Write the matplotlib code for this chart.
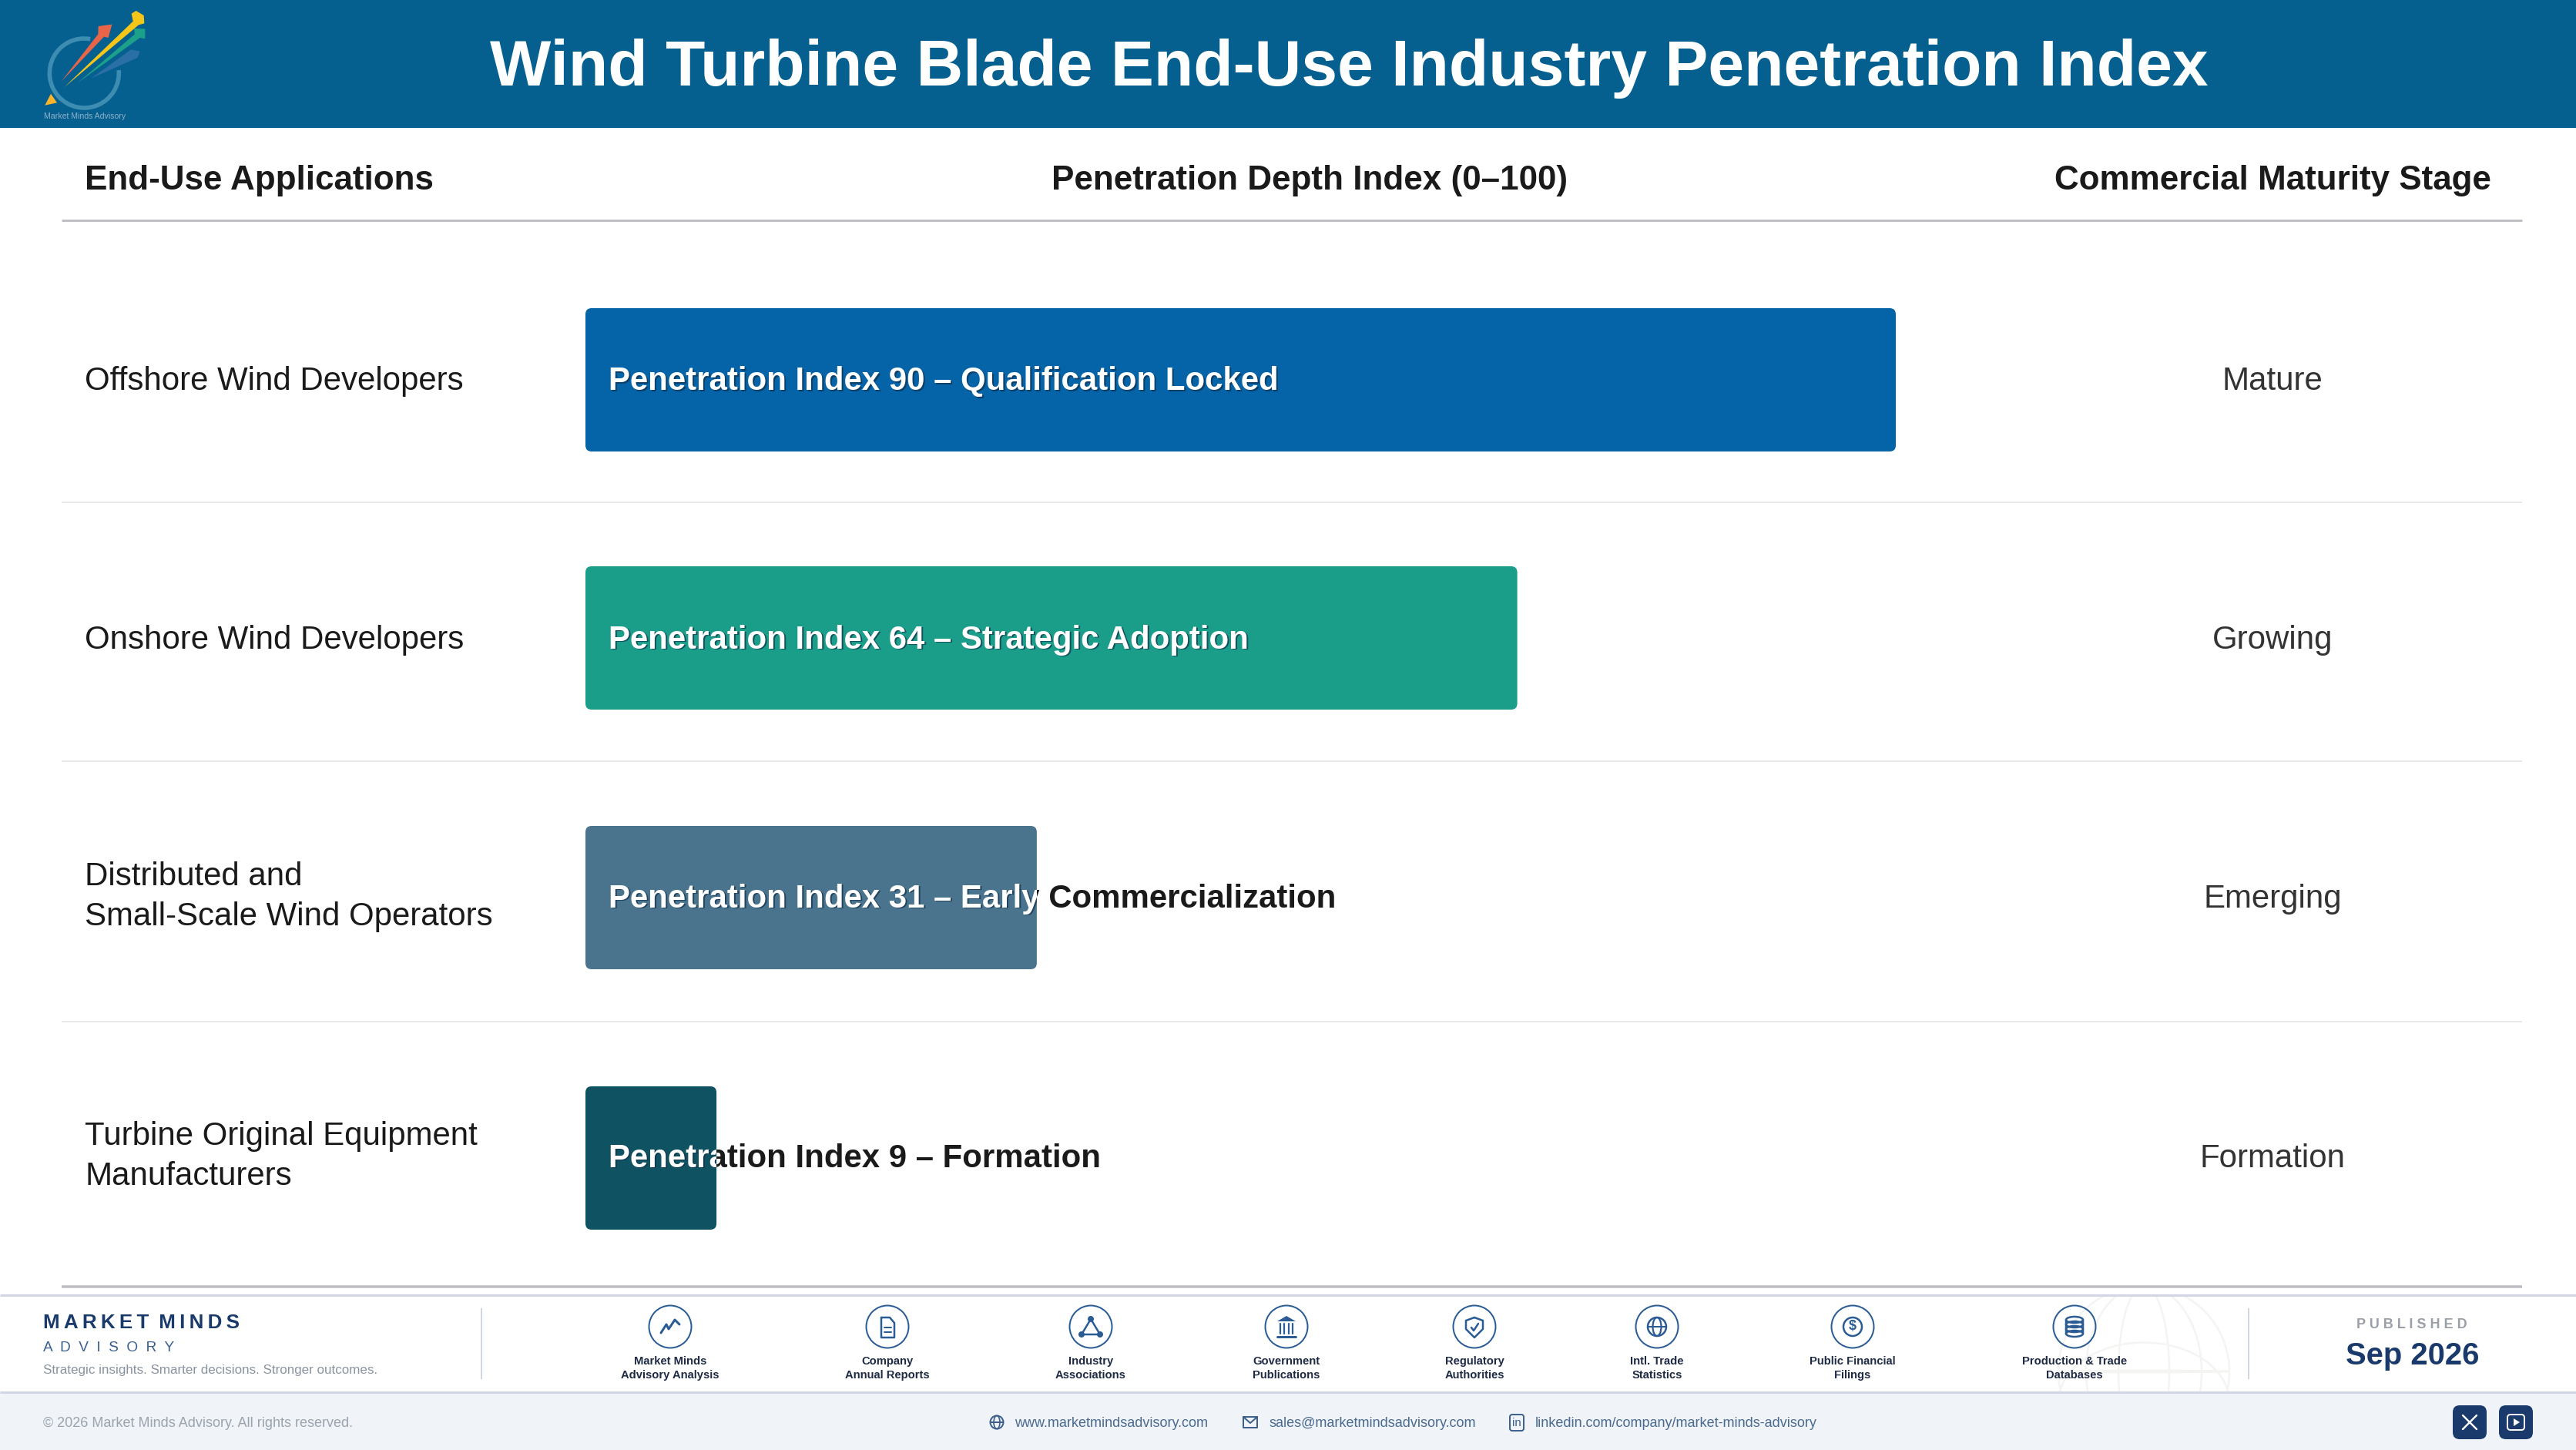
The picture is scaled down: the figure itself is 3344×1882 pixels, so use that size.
import matplotlib
matplotlib.use('Agg')
import matplotlib.pyplot as plt
from matplotlib.patches import Arc, Circle, Ellipse, FancyBboxPatch, Polygon, Rectangle
from matplotlib.transforms import Bbox, TransformedBbox

plt.rcParams['font.family'] = ['Liberation Sans', 'DejaVu Sans']
plt.rcParams['lines.solid_capstyle'] = 'butt'

# chart data
title = 'Wind Turbine Blade End-Use Industry Penetration Index'
applications = ['Offshore Wind Developers', 'Onshore Wind Developers',
                'Distributed and\nSmall-Scale Wind Operators',
                'Turbine Original Equipment\nManufacturers']
index_values = [90, 64, 31, 9]
index_notes = ['Qualification Locked', 'Strategic Adoption',
               'Early Commercialization', 'Formation']
stages = ['Mature', 'Growing', 'Emerging', 'Formation']
bar_colors = ['#0563A8', '#1A9E8A', '#4A748E', '#0F5262']

sources = ['Market Minds\nAdvisory Analysis', 'Company\nAnnual Reports',
           'Industry\nAssociations', 'Government\nPublications',
           'Regulatory\nAuthorities', 'Intl. Trade\nStatistics',
           'Public Financial\nFilings', 'Production & Trade\nDatabases']

# layout in image pixels
W, H = 3344, 1882
row_y = [493, 828, 1165, 1503]
text_y = [495, 831, 1167, 1504]
app_y = [495, 831, 1164, 1501]
sep_y = [652, 988, 1326]
source_x = [870, 1152, 1416, 1670, 1914, 2151, 2405, 2693]
NAVY = '#1A3A6B'
ICON = '#2B5C94'

fig = plt.figure(figsize=(W / 100, H / 100), dpi=100, facecolor='white')
ax = fig.add_axes([0, 0, 1, 1])
ax.set_xlim(0, W)
ax.set_ylim(H, 0)
ax.axis('off')

bar_ax = fig.add_axes([760 / W, 0, 1890 / W, 1])
bar_ax.set_xlim(0, 100)
bar_ax.set_ylim(H, 0)
bar_ax.axis('off')
bar_ax.patch.set_alpha(0)


def px(size):
    # font size given in image pixels
    return size * 0.72


def line(xs, ys, color=ICON, lw=2.0, **kw):
    ax.plot(xs, ys, color=color, lw=lw * 0.72, solid_capstyle='round', **kw)


def ring(x, y, r, color=ICON, lw=2.0, fill='none', z=3):
    ax.add_patch(Circle((x, y), r, fc=fill, ec=color, lw=lw * 0.72, zorder=z))


# header
ax.add_patch(Rectangle((0, 0), W, 166, fc='#05608F', ec='none'))
ax.text(1751, 89, title, color='white', fontsize=px(84), fontweight='bold',
        ha='center', va='center')


def logo_pts(pts):
    return [(40 + a / 3, 5 + b / 3) for a, b in pts]


ax.add_patch(Arc((40 + 208 / 3, 5 + 270 / 3), 90, 90, angle=0, theta1=-5, theta2=280,
                 ec='#3D8DB3', lw=4.0, zorder=2))
ax.add_patch(Polygon(logo_pts([(118, 303), (262, 118), (263, 87), (316, 80), (302, 132), (285, 128)]),
                     fc='#E8654A', ec='none', zorder=3))
ax.add_patch(Polygon(logo_pts([(130, 325), (398, 68), (392, 38), (410, 27), (440, 45), (442, 76), (420, 82)]),
                     fc='#F5C518', ec='none', zorder=4))
ax.add_patch(Polygon(logo_pts([(182, 308), (405, 118), (402, 96), (445, 97), (445, 136), (425, 132)]),
                     fc='#1CA08A', ec='none', zorder=3))
ax.add_patch(Polygon(logo_pts([(235, 290), (390, 178), (425, 185), (415, 210)]),
                     fc='#2A70A6', ec='none', zorder=3))
ax.add_patch(Polygon(logo_pts([(78, 350), (102, 385), (55, 395)]), fc='#FBB32B', ec='none', zorder=5))
ax.text(110, 151, 'Market Minds Advisory', color='#8FB2CB', fontsize=px(10.5), ha='center', va='center')

# column headers
head = dict(color='#1A1A1A', fontsize=px(44), fontweight='bold', va='center')
ax.text(110, 234, 'End-Use Applications', ha='left', **head)
ax.text(1700, 234, 'Penetration Depth Index (0\u2013100)', ha='center', **head)
ax.text(2950, 234, 'Commercial Maturity Stage', ha='center', **head)
ax.plot([80, 3274], [286, 286], color='#C0C0C4', lw=3 * 0.72)

# rows
for y in sep_y:
    ax.plot([80, 3274], [y, y], color='#E8E8EA', lw=2 * 0.72)

aspect = 1890 / 100
for i, value in enumerate(index_values):
    y = row_y[i]
    ax.text(110, app_y[i], applications[i], color='#1A1A1A', fontsize=px(42),
            ha='left', va='center', linespacing=1.39)
    ax.text(2950, text_y[i], stages[i], color='#333333', fontsize=px(42), ha='center', va='center')

    bar = FancyBboxPatch((0, y - 93), value, 186,
                         boxstyle='round,pad=0,rounding_size=%.3f' % (8 / aspect),
                         mutation_aspect=aspect, fc=bar_colors[i], ec='none', zorder=2)
    bar_ax.add_patch(bar)
    label = 'Penetration Index %d \u2013 %s' % (value, index_notes[i])
    style = dict(fontsize=px(42), fontweight='bold', ha='left', va='center')
    bar_ax.text(30 / aspect, text_y[i], label, color='#1A1A1A', zorder=1, **style)
    # agg ignores clip paths on text, so clip the white copy to the bar's box
    bar_box = TransformedBbox(Bbox([[0, y - 93], [value, y + 93]]), bar_ax.transData)
    shadow = bar_ax.text(31.5 / aspect, text_y[i] + 1.5, label, color='#12304A', alpha=0.7, zorder=3, **style)
    shadow.set_clip_box(bar_box)
    shadow.set_clip_on(True)
    inside = bar_ax.text(30 / aspect, text_y[i], label, color='white', zorder=4, **style)
    inside.set_clip_box(bar_box)
    inside.set_clip_on(True)

# footer bands
ax.add_patch(Rectangle((0, 1807), W, H - 1807, fc='#F0F4F8', ec='none', zorder=0))
ax.plot([80, 3274], [1670, 1670], color='#BDBDC4', lw=3.5 * 0.72)
band = Rectangle((0, 1681), W, 126, transform=ax.transData)
GLOBE = '#F4F4F2'
for w_ in [222, 150, 66]:
    e = Ellipse((2783, 1780), w_, 222, fc='none', ec=GLOBE, lw=1.8)
    ax.add_patch(e)
    e.set_clip_path(band)
for y0, h0 in [(1820, 155), (1780, 2)]:
    e = Ellipse((2783, y0), 222, h0, fc='none', ec=GLOBE, lw=1.8)
    ax.add_patch(e)
    e.set_clip_path(band)
ax.plot([0, W], [1681, 1681], color='#D2D6E4', lw=3 * 0.72, zorder=2)
ax.plot([0, W], [1807, 1807], color='#D2D6E4', lw=3 * 0.72, zorder=2)
ax.plot([625, 625], [1698, 1790], color='#CFD6DE', lw=2 * 0.72)
ax.plot([2919, 2919], [1698, 1790], color='#CFD6DE', lw=2 * 0.72)

# brand block
ax.text(56, 1717, '\u2009'.join('MARKET') + '\u2002' + '\u2009'.join('MINDS'), color=NAVY,
        fontsize=px(26), fontweight='bold', ha='left', va='center')
ax.text(56, 1749, '  '.join('ADVISORY'), color='#3A5F8F', fontsize=px(19), ha='left', va='center')
ax.text(56, 1778, 'Strategic insights. Smarter decisions. Stronger outcomes.', color='#8A94A0',
        fontsize=px(17), ha='left', va='center')

# source icons
for x, name in zip(source_x, sources):
    ring(x, 1722, 27.5)
    ax.text(x, 1776, name, color='#1F2A44', fontsize=px(14.8), fontweight='bold',
            ha='center', va='center', linespacing=1.4, zorder=3)

x, y = source_x[0], 1722
line([x - 12, x - 5, x - 2, x + 6, x + 12], [y + 8, y - 3, y + 3, y - 9, y - 3], lw=3)

x = source_x[1]
line([x - 8, x + 3, x + 9, x + 9, x - 8, x - 8], [y - 12, y - 12, y - 5, y + 14, y + 14, y - 12], lw=2.5)
line([x - 4, x + 5], [y + 1, y + 1])
line([x - 4, x + 5], [y + 7, y + 7])

x = source_x[2]
line([x, x - 12, x + 12, x], [y - 10, y + 10, y + 10, y - 10], lw=2.5)
for a, b in [(x, y - 10), (x - 12, y + 10), (x + 12, y + 10)]:
    ring(a, b, 3, fill=ICON)

x = source_x[3]
ax.add_patch(Polygon([(x - 12, y - 7), (x, y - 14), (x + 12, y - 7)], fc=ICON, ec='none', zorder=4))
for dx in [-8, -3, 3, 8]:
    line([x + dx, x + dx], [y - 4, y + 9], lw=2.2)
line([x - 12, x + 12], [y + 13, y + 13], lw=3)

x = source_x[4]
line([x, x + 11, x + 11, x, x - 11, x - 11, x], [y - 12, y - 8, y + 3, y + 14, y + 3, y - 8, y - 12], lw=2.5)
line([x - 4, x - 1, x + 5], [y + 1, y + 5, y - 4], lw=2.5)

x = source_x[5]
ring(x, y, 12, lw=2.5)
ax.add_patch(Ellipse((x, y), 11, 24, fc='none', ec=ICON, lw=1.6, zorder=3))
line([x - 12, x + 12], [y, y])

x = source_x[6]
ring(x, y, 12, lw=2.5)
ax.text(x, y, '\\$', color=ICON, fontsize=px(18), fontweight='bold', ha='center', va='center', zorder=4)

x = source_x[7]
for dy in [-9, -3, 3, 9]:
    ax.add_patch(Ellipse((x, y + dy), 22, 8, fc='none', ec=ICON, lw=1.8, zorder=3))
line([x - 11, x - 11], [y - 9, y + 9], lw=2.5)
line([x + 11, x + 11], [y - 9, y + 9], lw=2.5)

# published block
ax.text(3131, 1720, ' '.join('PUBLISHED'), color='#9A9FA8', fontsize=px(18), fontweight='bold',
        ha='center', va='center')
ax.text(3132, 1760, 'Sep 2026', color=NAVY, fontsize=px(40), fontweight='bold', ha='center', va='center')

# bottom strip
ax.text(56, 1847, '\u00a9 2026 Market Minds Advisory. All rights reserved.', color='#9AA3AE',
        fontsize=px(18), ha='left', va='center')
link = dict(color='#4A6A90', fontsize=px(18), ha='left', va='center')
ax.text(1317, 1847, 'www.marketmindsadvisory.com', **link)
ax.text(1647, 1847, 'sales@marketmindsadvisory.com', **link)
ax.text(1993, 1847, 'linkedin.com/company/market-minds-advisory', **link)

ring(1294, 1846, 8.5, color='#3C5F8C')
ax.add_patch(Ellipse((1294, 1846), 8, 17, fc='none', ec='#3C5F8C', lw=1.2, zorder=3))
line([1286, 1302], [1846, 1846], color='#3C5F8C')
line([1614, 1632, 1632, 1614, 1614, 1623, 1632], [1839, 1839, 1853, 1853, 1839, 1847, 1839], color='#3C5F8C')
ax.add_patch(FancyBboxPatch((1960, 1836), 18, 21, boxstyle='round,pad=0,rounding_size=3',
                            fc='none', ec='#3C5F8C', lw=1.4, zorder=3))
ax.text(1969, 1847, 'in', color='#3C5F8C', fontsize=px(15), ha='center', va='center', zorder=4)

for left in [3184, 3244]:
    ax.add_patch(FancyBboxPatch((left, 1824), 44, 44, boxstyle='round,pad=0,rounding_size=9',
                                fc=NAVY, ec='none', zorder=3))
line([3197, 3215], [1837, 1855], color='white', lw=2.4, zorder=4)
line([3215, 3197], [1837, 1855], color='white', lw=2.4, zorder=4)
ax.add_patch(FancyBboxPatch((3255, 1836), 22, 20, boxstyle='round,pad=0,rounding_size=4',
                            fc='none', ec='white', lw=1.4, zorder=4))
ax.add_patch(Polygon([(3263, 1841), (3271, 1846), (3263, 1851)], fc='white', ec='none', zorder=4))

fig.savefig('out.png', dpi=100, facecolor='white')
